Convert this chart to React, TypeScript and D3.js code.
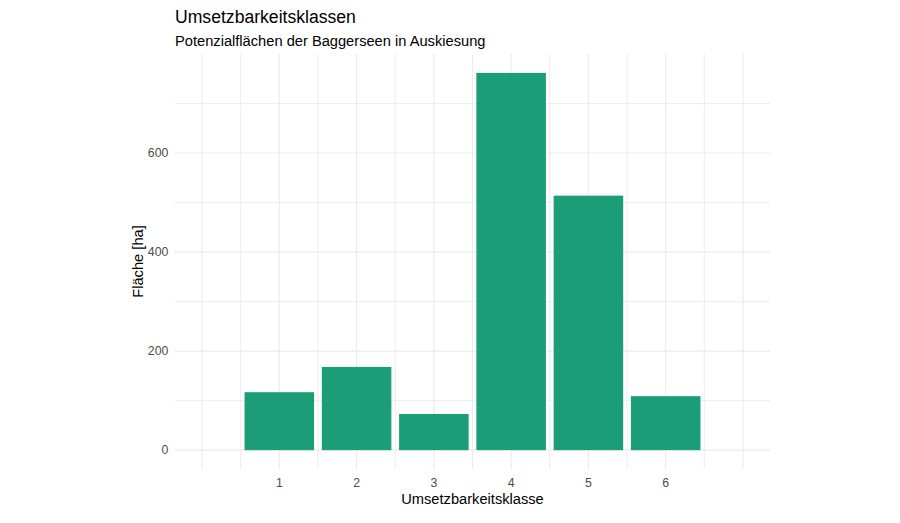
import React from "react";
import * as d3 from "d3";

const classes = [1, 2, 3, 4, 5, 6];
const areaHa = [117, 168, 73, 762, 514, 109];
const yTickValues = [0, 200, 400, 600];
const yMinorValues = [100, 300, 500, 700];
const xMajorValues = [0, 1, 2, 3, 4, 5, 6, 7];
const xMinorValues = [0.5, 1.5, 2.5, 3.5, 4.5, 5.5, 6.5];
const xTickLabels = ["1", "2", "3", "4", "5", "6"];

const title = "Umsetzbarkeitsklassen";
const subtitle = "Potenzialflächen der Baggerseen in Auskiesung";
const xTitle = "Umsetzbarkeitsklasse";
const yTitle = "Fläche [ha]";

const W = 900;
const H = 523;
const panel = { left: 175, right: 770, top: 54, bottom: 469 };
const font = "'Liberation Sans', Arial, sans-serif";

export default function App() {
  const maxV = d3.max(areaHa) as number;
  const yExp = maxV * 0.05;
  const y = d3
    .scaleLinear()
    .domain([0 - yExp, maxV + yExp])
    .range([panel.bottom, panel.top]);
  const xExp = 7 * 0.05;
  const x = d3
    .scaleLinear()
    .domain([0 - xExp, 7 + xExp])
    .range([panel.left, panel.right]);
  const barW = 0.9;
  const grid = "#ebebeb";

  return (
    <svg
      width={W}
      height={H}
      style={{ position: "absolute", left: 0, top: 0, background: "#fff" }}
      fontFamily={font}
    >
      <rect x={0} y={0} width={W} height={H} fill="#fff" />
      {yMinorValues.map((v) => (
        <line key={"ym" + v} x1={panel.left} x2={panel.right} y1={y(v)} y2={y(v)} stroke={grid} strokeWidth={0.9} />
      ))}
      {xMinorValues.map((v) => (
        <line key={"xm" + v} x1={x(v)} x2={x(v)} y1={panel.top} y2={panel.bottom} stroke={grid} strokeWidth={0.9} />
      ))}
      {yTickValues.map((v) => (
        <line key={"yM" + v} x1={panel.left} x2={panel.right} y1={y(v)} y2={y(v)} stroke={grid} strokeWidth={1.1} />
      ))}
      {xMajorValues.map((v) => (
        <line key={"xM" + v} x1={x(v)} x2={x(v)} y1={panel.top} y2={panel.bottom} stroke={grid} strokeWidth={1.1} />
      ))}
      {classes.map((c, i) => (
        <rect
          key={"b" + c}
          x={x(c - barW / 2)}
          width={x(c + barW / 2) - x(c - barW / 2)}
          y={y(areaHa[i])}
          height={y(0) - y(areaHa[i])}
          fill="#1b9e77"
        />
      ))}
      {yTickValues.map((v) => (
        <text
          key={"yt" + v}
          x={168.4}
          y={y(v)}
          dy="0.35em"
          textAnchor="end"
          fontSize={12.3}
          fill="#4d4d4d"
        >
          {v}
        </text>
      ))}
      {classes.map((c, i) => (
        <text
          key={"xt" + c}
          x={x(c)}
          y={486.5}
          textAnchor="middle"
          fontSize={12.3}
          fill="#4d4d4d"
        >
          {xTickLabels[i]}
        </text>
      ))}
      <text x={(panel.left + panel.right) / 2} y={503.5} textAnchor="middle" fontSize={14.67} fill="#000">
        {xTitle}
      </text>
      <text
        transform={`translate(142.5, ${(panel.top + panel.bottom) / 2}) rotate(-90)`}
        textAnchor="middle"
        fontSize={14.67}
        fill="#000"
      >
        {yTitle}
      </text>
      <text x={panel.left} y={22.5} fontSize={17.6} fill="#000">
        {title}
      </text>
      <text x={panel.left} y={45.5} fontSize={14.67} fill="#000">
        {subtitle}
      </text>
    </svg>
  );
}
